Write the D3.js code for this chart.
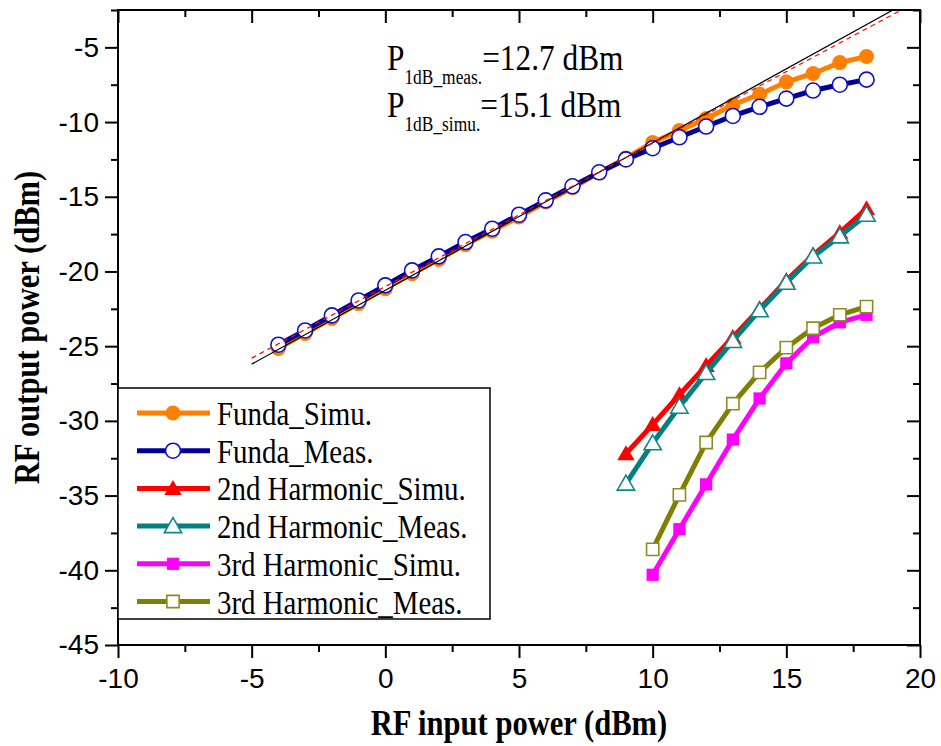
<!DOCTYPE html>
<html>
<head>
<meta charset="utf-8">
<script src="https://cdn.jsdelivr.net/npm/d3@7"></script>
<style>
  body { margin: 0; background: #fff; }
  svg { display: block; }
</style>
</head>
<body>
<div id="chart"></div>
<script>
// input power sweep (dBm)
const fundaX = [-4, -3, -2, -1, 0, 1, 2, 3, 4, 5, 6, 7, 8, 9, 10, 11, 12, 13, 14, 15, 16, 17, 18]
const fundaSimu = [-25.15, -24.15, -23.15, -22.15, -21.15, -20.15, -19.2, -18.2, -17.3, -16.35, -15.35, -14.4,
  -13.4, -12.4, -11.36, -10.57, -9.77, -8.86, -8.14, -7.32, -6.75, -6.02, -5.61]
const fundaMeas = [-24.9, -23.95, -22.94, -21.94, -20.93, -19.93, -18.99, -18.03, -17.14, -16.2, -15.24, -14.3,
  -13.36, -12.5, -11.75, -11.02, -10.3, -9.59, -8.98, -8.43, -7.89, -7.5, -7.16]

const harm2X = [9, 10, 11, 12, 13, 14, 15, 16, 17, 18]
const harm2Simu = [-32.2, -30.25, -28.25, -26.3, -24.4, -22.5, -20.6, -18.9, -17.4, -15.8]
const harm2Meas = [-34.2, -31.5, -29.05, -26.8, -24.65, -22.6, -20.75, -19.0, -17.65, -16.2]

const harm3X = [10, 11, 12, 13, 14, 15, 16, 17, 18]
const harm3Simu = [-40.3, -37.25, -34.25, -31.25, -28.5, -26.15, -24.4, -23.4, -22.9]
const harm3Meas = [-38.6, -34.95, -31.45, -28.85, -26.75, -25.1, -23.8, -22.9, -22.35]

// linear extrapolation lines (end points)
const linSolidX = [-5, 20]
const linSolidY = [-26.2, -1.5]
const linDashX = [-5, 20]
const linDashY = [-25.8, -1.83]

const xTicks = [-10, -5, 0, 5, 10, 15, 20]
const xMinor = [-7.5, -2.5, 2.5, 7.5, 12.5, 17.5]
const yTicks = [-45, -40, -35, -30, -25, -20, -15, -10, -5]
const yMinor = [-42.5, -37.5, -32.5, -27.5, -22.5, -17.5, -12.5, -7.5, -2.5]

const series = [
  { name: "Funda_Simu.", xs: fundaX, ys: fundaSimu, color: "#FF8000", marker: "circle", open: false },
  { name: "Funda_Meas.", xs: fundaX, ys: fundaMeas, color: "#000099", stroke: "#1010C8", marker: "circle", open: true },
  { name: "2nd Harmonic_Simu.", xs: harm2X, ys: harm2Simu, color: "#FF0000", marker: "triangle", open: false },
  { name: "2nd Harmonic_Meas.", xs: harm2X, ys: harm2Meas, color: "#008080", stroke: "#108888", marker: "triangle", open: true },
  { name: "3rd Harmonic_Simu.", xs: harm3X, ys: harm3Simu, color: "#FF00FF", marker: "square", open: false },
  { name: "3rd Harmonic_Meas.", xs: harm3X, ys: harm3Meas, color: "#808000", stroke: "#8C8C20", marker: "square", open: true }
]

const W = 941, H = 746
const plotL = 118, plotR = 920, plotT = 10, plotB = 645
const serif = "'Liberation Serif', 'Times New Roman', serif"
const sans = "'Liberation Sans', Arial, sans-serif"

const svg = d3.select("#chart").append("svg")
  .attr("width", W)
  .attr("height", H)

const x = d3.scaleLinear().domain([-10, 20]).range([plotL, plotR])
const y = d3.scaleLinear().domain([-45, -2.5]).range([plotB, plotT])

svg.append("clipPath").attr("id", "plotClip")
  .append("rect")
  .attr("x", plotL).attr("y", plotT)
  .attr("width", plotR - plotL).attr("height", plotB - plotT)

// axes
function styleAxis(g) {
  g.select(".domain").remove()
  g.selectAll(".tick line").attr("stroke", "#000").attr("stroke-width", 2)
  g.selectAll(".tick text").attr("fill", "#000").style("font-family", sans).style("font-size", "28px")
}

svg.append("g")
  .attr("transform", "translate(0," + plotB + ")")
  .call(d3.axisBottom(x).tickValues(xTicks).tickSize(13).tickPadding(10).tickFormat(d => String(d)))
  .call(styleAxis)
svg.append("g")
  .attr("transform", "translate(0," + plotB + ")")
  .call(d3.axisBottom(x).tickValues(xMinor).tickSize(7).tickFormat(""))
  .call(styleAxis)
svg.append("g")
  .attr("transform", "translate(0," + plotT + ")")
  .call(d3.axisTop(x).tickValues(xTicks).tickSize(-13).tickFormat(""))
  .call(styleAxis)
svg.append("g")
  .attr("transform", "translate(0," + plotT + ")")
  .call(d3.axisTop(x).tickValues(xMinor).tickSize(-7).tickFormat(""))
  .call(styleAxis)

svg.append("g")
  .attr("transform", "translate(" + plotL + ",0)")
  .call(d3.axisLeft(y).tickValues(yTicks).tickSize(13).tickPadding(6).tickFormat(d => String(d)))
  .call(styleAxis)
svg.append("g")
  .attr("transform", "translate(" + plotL + ",0)")
  .call(d3.axisLeft(y).tickValues(yMinor).tickSize(7).tickFormat(""))
  .call(styleAxis)
svg.append("g")
  .attr("transform", "translate(" + plotR + ",0)")
  .call(d3.axisRight(y).tickValues(yTicks).tickSize(-13).tickFormat(""))
  .call(styleAxis)
svg.append("g")
  .attr("transform", "translate(" + plotR + ",0)")
  .call(d3.axisRight(y).tickValues(yMinor).tickSize(-7).tickFormat(""))
  .call(styleAxis)

// frame
svg.append("rect")
  .attr("x", plotL).attr("y", plotT)
  .attr("width", plotR - plotL).attr("height", plotB - plotT)
  .attr("fill", "none").attr("stroke", "#000").attr("stroke-width", 2)

// axis titles
svg.append("text")
  .attr("transform", "translate(" + ((plotL + plotR) / 2) + ",735) scale(0.85,1)")
  .attr("text-anchor", "middle")
  .style("font-family", serif).style("font-size", "36px").style("font-weight", "bold")
  .text("RF input power (dBm)")

svg.append("text")
  .attr("transform", "translate(39," + ((plotT + plotB) / 2) + ") rotate(-90) scale(0.85,1)")
  .attr("text-anchor", "middle")
  .style("font-family", serif).style("font-size", "36px").style("font-weight", "bold")
  .text("RF output power (dBm)")

// marker shapes
const symbolFor = {
  circle: d3.symbol().type(d3.symbolCircle).size(Math.PI * 7.5 * 7.5),
  triangle: d3.symbol().type(d3.symbolTriangle).size(130),
  square: d3.symbol().type(d3.symbolSquare).size(150)
}

function drawMarker(g, s, cx, cy) {
  const m = g.append("path")
    .attr("d", symbolFor[s.marker]())
    .attr("transform", "translate(" + cx + "," + (cy + (s.marker == "triangle" ? 1.5 : 0)) + ")")
  if (s.open) {
    m.attr("fill", "#fff").attr("stroke", s.stroke).attr("stroke-width", 1.6)
  } else {
    m.attr("fill", s.color).attr("stroke", "none")
  }
}

const plot = svg.append("g").attr("clip-path", "url(#plotClip)")

const line = d3.line()
  .x(d => x(d[0]))
  .y(d => y(d[1]))

series.forEach(s => {
  const pts = s.xs.map((v, i) => [v, s.ys[i]])
  const g = plot.append("g")
  g.append("path")
    .datum(pts)
    .attr("d", line)
    .attr("fill", "none")
    .attr("stroke", s.color)
    .attr("stroke-width", 5)
  pts.forEach(p => drawMarker(g, s, x(p[0]), y(p[1])))
})

// linear reference lines
plot.append("path")
  .datum(linSolidX.map((v, i) => [v, linSolidY[i]]))
  .attr("d", line)
  .attr("fill", "none").attr("stroke", "#000").attr("stroke-width", 1.2)
plot.append("path")
  .datum(linDashX.map((v, i) => [v, linDashY[i]]))
  .attr("d", line)
  .attr("fill", "none").attr("stroke", "#FF0000").attr("stroke-width", 1.2)
  .attr("stroke-dasharray", "5,4")

// P1dB annotation
function p1dbLabel(yBase, sub, val) {
  const t = svg.append("text")
    .attr("transform", "translate(387," + yBase + ") scale(0.87,1)")
    .style("font-family", serif).style("font-size", "36px")
  t.append("tspan").text("P")
  t.append("tspan").attr("dy", 14).style("font-size", "20px").text(sub)
  t.append("tspan").attr("dy", -14).text(val)
}
p1dbLabel(70, "1dB_meas.", "=12.7 dBm")
p1dbLabel(117, "1dB_simu.", "=15.1 dBm")

// legend
const legend = svg.append("g")
legend.append("rect")
  .attr("x", plotL).attr("y", 388)
  .attr("width", 490 - plotL).attr("height", 619 - 388)
  .attr("fill", "#fff").attr("stroke", "#000").attr("stroke-width", 1.5)

series.forEach((s, i) => {
  const cy = 413 + i * 37.7
  legend.append("line")
    .attr("x1", 137).attr("x2", 210)
    .attr("y1", cy).attr("y2", cy)
    .attr("stroke", s.color).attr("stroke-width", 5)
  drawMarker(legend, s, 173, cy)
  legend.append("text")
    .attr("transform", "translate(217," + (cy + 12) + ") scale(0.85,1)")
    .style("font-family", serif).style("font-size", "34px")
    .text(s.name)
})
</script>
</body>
</html>
